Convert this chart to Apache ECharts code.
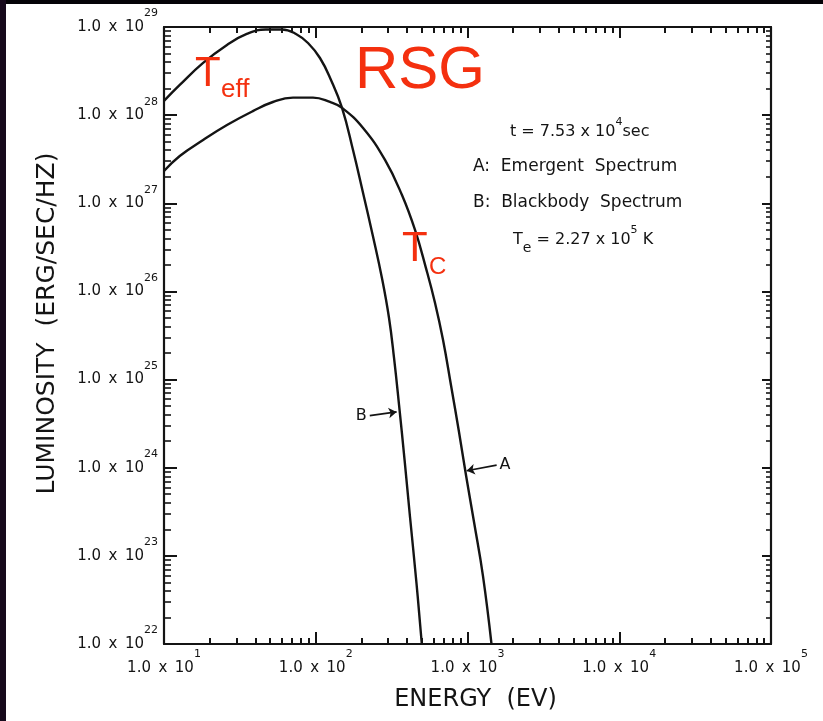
<!DOCTYPE html>
<html>
<head>
<meta charset="utf-8">
<script src="https://cdn.jsdelivr.net/npm/echarts@6/dist/echarts.min.js"></script>
<style>
  html, body { margin: 0; padding: 0; background: #ffffff; }
  #chart { width: 823px; height: 721px; }
</style>
</head>
<body>
<div id="chart"></div>
<script>
// Curve B: blackbody spectrum, photon energy (eV) and luminosity (erg/s/Hz)
const blackbodyEnergy = [10, 12.7, 18.1, 26.0, 35.1, 46.9, 59.9, 74.1, 88.9, 106.6, 126, 149, 176, 205, 238, 273, 304, 328, 354, 385, 418, 461, 500];
const blackbodyLum = [1.45e28, 2.20e28, 3.91e28, 6.25e28, 8.34e28, 9.38e28, 9.38e28, 8.34e28, 6.58e28, 4.45e28, 2.51e28, 1.21e28, 4.02e27, 1.31e27, 4.26e26, 1.42e26, 4.99e25, 1.76e25, 5.14e24, 1.22e24, 2.76e23, 4.92e22, 1.0e22];

// Curve A: emergent spectrum
const emergentEnergy = [10, 12.7, 18.1, 26.0, 38.5, 52.2, 70.8, 95.9, 124, 149, 205, 286, 370, 451, 532, 611, 690, 778, 879, 977, 1104, 1265, 1439];
const emergentLum = [2.32e27, 3.44e27, 5.22e27, 7.73e27, 1.11e28, 1.41e28, 1.58e28, 1.58e28, 1.41e28, 1.21e28, 7.15e27, 3.10e27, 1.24e27, 4.98e26, 1.85e26, 7.40e25, 2.81e25, 8.67e24, 2.54e24, 8.26e23, 2.42e23, 5.90e22, 1.0e22];

// Decade tick labels (exponents of ten)
const xTickExponents = [1, 2, 3, 4, 5];
const yTickExponents = [22, 23, 24, 25, 26, 27, 28, 29];

// Arrow pointers naming the curves: [label, tail energy, tail lum, head energy, head lum]
const curvePointers = [
  ['B', 227, 3.9e24, 341, 4.3e24],
  ['A', 1556, 1.07e24, 988, 9.25e23]
];

const FONT = 'DejaVu Sans';
const INK = '#141414';
const RED = '#f4300f';

const X_MIN = 1e1, X_MAX = 1e5, Y_MIN = 1e22, Y_MAX = 1e29;

// Powers of ten; the value at an axis maximum is pulled in by a hair so the
// log scale's rounded extent does not drop its tick and label.
function decadeValues(exps, max) {
  return exps.map(e => Math.min(Number('1e' + e), max * (1 - 1e-12)));
}
const xMajor = decadeValues(xTickExponents, X_MAX);
const yMajor = decadeValues(yTickExponents, Y_MAX);
function minorValues(exps) {
  const out = [];
  for (let i = 0; i < exps.length - 1; i++) {
    for (let k = 2; k <= 9; k++) out.push(Number(k + 'e' + exps[i]));
  }
  return out;
}
const xMinor = minorValues(xTickExponents);
const yMinor = minorValues(yTickExponents);

function toPairs(xs, ys) { return xs.map((x, i) => [x, ys[i]]); }

const powerRich = {
  b: { fontFamily: FONT, fontSize: 15, color: INK, lineHeight: 38 },
  s: { fontFamily: FONT, fontSize: 11, color: INK, lineHeight: 11, verticalAlign: 'top' }
};
function powerLabel(v) {
  const e = Math.round(Math.log10(v));
  return '{b|1.0\u2002x\u200210}{s|' + e + '}';
}

const frame = { lineStyle: { color: INK, width: 2.2 } };

function logAxis(opts) {
  return Object.assign({
    type: 'log', logBase: 10,
    axisLine: Object.assign({ show: true }, frame),
    splitLine: { show: false },
    axisLabel: { show: false },
    z: 5
  }, opts);
}

const gridRect = { left: 164, right: 52, top: 27, bottom: 77 };

const option = {
  animation: false,
  backgroundColor: '#ffffff',
  grid: [Object.assign({}, gridRect), Object.assign({}, gridRect)],
  xAxis: [
    logAxis({
      gridIndex: 0, position: 'bottom', min: X_MIN, max: X_MAX,
      axisTick: { show: true, inside: true, length: 12, customValues: xMajor, lineStyle: { color: INK, width: 2 } },
      axisLabel: { show: true, customValues: xMajor, margin: 5, showMinLabel: true, showMaxLabel: true, hideOverlap: false, formatter: powerLabel, rich: powerRich },
      name: 'ENERGY  (EV)', nameLocation: 'middle', nameGap: 44,
      nameTextStyle: { fontFamily: FONT, fontSize: 24, color: INK, padding: [0, 0, 0, 16] }
    }),
    logAxis({
      gridIndex: 0, position: 'top', min: X_MIN, max: X_MAX,
      axisTick: { show: true, inside: true, length: 11, customValues: xMajor, lineStyle: { color: INK, width: 2 } }
    }),
    logAxis({
      gridIndex: 1, position: 'bottom', min: X_MIN, max: X_MAX,
      axisLine: { show: false },
      axisTick: { show: true, inside: true, length: 6, customValues: xMinor, lineStyle: { color: INK, width: 2 } }
    }),
    logAxis({
      gridIndex: 1, position: 'top', min: X_MIN, max: X_MAX,
      axisLine: { show: false },
      axisTick: { show: true, inside: true, length: 6, customValues: xMinor, lineStyle: { color: INK, width: 2 } }
    })
  ],
  yAxis: [
    logAxis({
      gridIndex: 0, position: 'left', min: Y_MIN, max: Y_MAX,
      axisTick: { show: true, inside: true, length: 13, customValues: yMajor, lineStyle: { color: INK, width: 2 } },
      axisLabel: { show: true, customValues: yMajor, margin: 6, showMinLabel: true, showMaxLabel: true, hideOverlap: false, formatter: powerLabel, rich: powerRich },
      name: 'LUMINOSITY  (ERG/SEC/HZ)', nameLocation: 'middle', nameGap: 104,
      nameTextStyle: { fontFamily: FONT, fontSize: 25, color: INK, padding: [0, 0, 0, 24] }
    }),
    logAxis({
      gridIndex: 0, position: 'right', min: Y_MIN, max: Y_MAX,
      axisTick: { show: true, inside: true, length: 9, customValues: yMajor, lineStyle: { color: INK, width: 2 } }
    }),
    logAxis({
      gridIndex: 1, position: 'left', min: Y_MIN, max: Y_MAX,
      axisLine: { show: false },
      axisTick: { show: true, inside: true, length: 7, customValues: yMinor, lineStyle: { color: INK, width: 1.6 } }
    }),
    logAxis({
      gridIndex: 1, position: 'right', min: Y_MIN, max: Y_MAX,
      axisLine: { show: false },
      axisTick: { show: true, inside: true, length: 5, customValues: yMinor, lineStyle: { color: INK, width: 1.6 } }
    })
  ],
  series: [
    {
      name: 'B: Blackbody Spectrum',
      type: 'line', xAxisIndex: 0, yAxisIndex: 0,
      data: toPairs(blackbodyEnergy, blackbodyLum),
      smooth: 0.45, showSymbol: false,
      lineStyle: { color: INK, width: 2.4 },
      markLine: {
        silent: true,
        symbol: ['none', 'arrow'], symbolSize: 8,
        lineStyle: { color: INK, width: 1.6, type: 'solid' },
        label: {
          show: true, position: 'start', distance: 3,
          formatter: p => p.name,
          fontFamily: FONT, fontSize: 16, color: INK
        },
        data: curvePointers.map(p => [
          { name: p[0], coord: [p[1], p[2]] },
          { coord: [p[3], p[4]] }
        ])
      }
    },
    {
      name: 'A: Emergent Spectrum',
      type: 'line', xAxisIndex: 0, yAxisIndex: 0,
      data: toPairs(emergentEnergy, emergentLum),
      smooth: 0.45, showSymbol: false,
      lineStyle: { color: INK, width: 2.4 }
    }
  ],
  graphic: [
    // dark frame strips along the top and left edges
    { type: 'rect', left: 0, top: 0, shape: { width: 823, height: 4 }, style: { fill: '#050307' }, z: 100 },
    { type: 'rect', left: 0, top: 0, shape: { width: 6, height: 721 }, style: { fill: '#170a1c' }, z: 100 },
    // legend block
    {
      type: 'text', x: 510, y: 132, z: 50,
      style: {
        text: '{a|t = 7.53 x 10}{s|4}{a|sec}',
        rich: {
          a: { fontFamily: FONT, fontSize: 16, fill: INK, lineHeight: 30 },
          s: { fontFamily: FONT, fontSize: 11, fill: INK, lineHeight: 12, verticalAlign: 'top' }
        },
        verticalAlign: 'middle', align: 'left'
      }
    },
    {
      type: 'text', x: 473, y: 167, z: 50,
      style: { text: 'A:  Emergent  Spectrum', font: '17px "DejaVu Sans"', fill: INK, verticalAlign: 'middle', align: 'left' }
    },
    {
      type: 'text', x: 473, y: 203, z: 50,
      style: { text: 'B:  Blackbody  Spectrum', font: '17px "DejaVu Sans"', fill: INK, verticalAlign: 'middle', align: 'left' }
    },
    {
      type: 'text', x: 513, y: 240, z: 50,
      style: {
        text: '{a|T}{e|e}{a| = 2.27 x 10}{s|5}{a| K}',
        rich: {
          a: { fontFamily: FONT, fontSize: 16, fill: INK, lineHeight: 30 },
          e: { fontFamily: FONT, fontSize: 14, fill: INK, lineHeight: 14, verticalAlign: 'bottom' },
          s: { fontFamily: FONT, fontSize: 11, fill: INK, lineHeight: 12, verticalAlign: 'top' }
        },
        verticalAlign: 'middle', align: 'left'
      }
    },
    // red annotations
    { type: 'text', x: 355, y: 71, z: 60, style: { text: 'RSG', font: '60px "Liberation Sans"', fill: RED, verticalAlign: 'middle', align: 'left' } },
    { type: 'text', x: 195, y: 74, z: 60, style: { text: 'T', font: '42px "Liberation Sans"', fill: RED, verticalAlign: 'middle', align: 'left' } },
    { type: 'text', x: 221, y: 90, z: 60, style: { text: 'eff', font: '26px "Liberation Sans"', fill: RED, verticalAlign: 'middle', align: 'left' } },
    { type: 'text', x: 402, y: 249, z: 60, style: { text: 'T', font: '42px "Liberation Sans"', fill: RED, verticalAlign: 'middle', align: 'left' } },
    { type: 'text', x: 429, y: 267, z: 60, style: { text: 'C', font: '24px "Liberation Sans"', fill: RED, verticalAlign: 'middle', align: 'left' } }
  ]
};

const chart = echarts.init(document.getElementById('chart'), null, { renderer: 'canvas' });
chart.setOption(option);
</script>
</body>
</html>
